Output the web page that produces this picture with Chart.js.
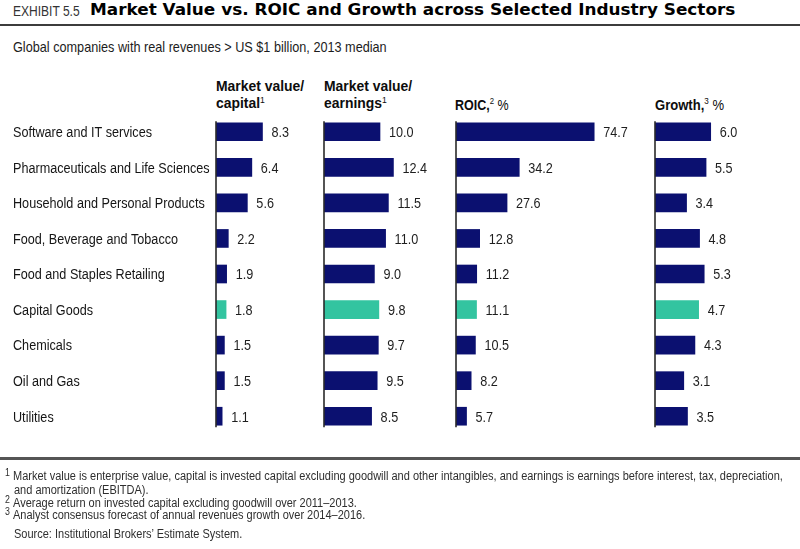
<!DOCTYPE html>
<html>
<head>
<meta charset="utf-8">
<script src="https://cdn.jsdelivr.net/npm/chart.js@4"></script>
<style>
  html, body { margin:0; padding:0; background:#fff; }
  body { width:800px; height:549px; position:relative; overflow:hidden; }
  canvas { position:absolute; left:0; top:0; }
  .t { position:absolute; white-space:nowrap; line-height:1; color:#1c1c1c;
       font-family:'Liberation Sans',Arial,sans-serif;
       transform-origin:0 50%; transform:scaleX(0.815); }
  .b { font-weight:bold; color:#0d0d0d; }
  .sup { font-size:0.62em; position:relative; top:-0.55em; font-weight:normal; }
  .rule { position:absolute; left:0; width:800px; }
  .fn { font-size:12.5px; color:#2e2e2e; }
  .fs { font-size:10px; color:#2e2e2e; }
</style>
</head>
<body>
<div class="t" id="exh" data-w="67" style="left:13px;top:4px;font-size:14px;color:#333;">EXHIBIT 5.5</div>
<div class="t" id="title" data-w="645" style="left:90px;top:3px;font-size:15px;font-family:'DejaVu Sans',sans-serif;font-weight:bold;color:#000;">Market Value vs. ROIC and Growth across Selected Industry Sectors</div>
<div class="rule" style="top:24px;height:2px;background:#3c3c3c;"></div>
<div class="t" id="sub" data-w="374" style="left:13px;top:40px;font-size:14.5px;">Global companies with real revenues &gt; US $1 billion, 2013 median</div>

<div class="t b" id="h1a" data-w="88" style="left:216px;top:77.5px;font-size:15.5px;">Market value/</div>
<div class="t b" id="h1b" style="left:216px;top:95px;font-size:15.5px;">capital<span class="sup">1</span></div>
<div class="t b" id="h2a" data-w="88" style="left:324px;top:77.5px;font-size:15.5px;">Market value/</div>
<div class="t b" id="h2b" style="left:324px;top:95px;font-size:15.5px;">earnings<span class="sup">1</span></div>
<div class="t b" id="h3" data-w="54" style="left:455px;top:96.5px;font-size:15.5px;">ROIC,<span class="sup">2</span> <span style="font-weight:normal">%</span></div>
<div class="t b" id="h4" data-w="69" style="left:655px;top:96.5px;font-size:15.5px;">Growth,<span class="sup">3</span> <span style="font-weight:normal">%</span></div>

<canvas id="c1" width="800" height="549"></canvas>
<canvas id="c2" width="800" height="549"></canvas>
<canvas id="c3" width="800" height="549"></canvas>
<canvas id="c4" width="800" height="549"></canvas>

<div class="rule" style="top:457px;height:2.5px;background:#555;"></div>
<div class="t fs" style="left:5px;top:467.5px;">1</div>
<div class="t fn" id="fn1" data-w="770" style="left:13px;top:469.75px;">Market value is enterprise value, capital is invested capital excluding goodwill and other intangibles, and earnings is earnings before interest, tax, depreciation,</div>
<div class="t fn fnx" style="left:13.5px;top:484.25px;">and amortization (EBITDA).</div>
<div class="t fs" style="left:5px;top:495px;">2</div>
<div class="t fn fnx" style="left:13px;top:497.25px;">Average return on invested capital excluding goodwill over 2011–2013.</div>
<div class="t fs" style="left:5px;top:506.5px;">3</div>
<div class="t fn fnx" style="left:13px;top:508.75px;">Analyst consensus forecast of annual revenues growth over 2014–2016.</div>
<div class="t fn fnx" style="left:13.5px;top:527.75px;">Source: Institutional Brokers’ Estimate System.</div>

<script>
// ---------------- data ----------------
const categories = [
  'Software and IT services',
  'Pharmaceuticals and Life Sciences',
  'Household and Personal Products',
  'Food, Beverage and Tobacco',
  'Food and Staples Retailing',
  'Capital Goods',
  'Chemicals',
  'Oil and Gas',
  'Utilities'
];
const marketValueCapital  = [8.3, 6.4, 5.6, 2.2, 1.9, 1.8, 1.5, 1.5, 1.1];
const marketValueEarnings = [10.0, 12.4, 11.5, 11.0, 9.0, 9.8, 9.7, 9.5, 8.5];
const roicPct             = [74.7, 34.2, 27.6, 12.8, 11.2, 11.1, 10.5, 8.2, 5.7];
const growthPct           = [6.0, 5.5, 3.4, 4.8, 5.3, 4.7, 4.3, 3.1, 3.5];
const highlightCategory   = 'Capital Goods';

// ---------------- style ----------------
const NAVY = '#0b1070';
const TEAL = '#33c4a0';
const FONT = "'Liberation Sans',Arial,sans-serif";
const SX = 0.815;   // horizontal condensing of canvas text
const barColors = categories.map(c => c === highlightCategory ? TEAL : NAVY);

function narrowText(ctx, text, x, y) {
  ctx.save();
  ctx.translate(x, y);
  ctx.scale(SX, 1);
  ctx.fillText(text, 0, 0);
  ctx.restore();
}

const barDecor = {
  id: 'barDecor',
  afterDatasetsDraw(chart, args, opts) {
    const ctx = chart.ctx;
    const meta = chart.getDatasetMeta(0);
    const xs = chart.scales.x, ys = chart.scales.y;
    const x0 = xs.getPixelForValue(0);
    const first = meta.data[0], last = meta.data[meta.data.length - 1];
    const h = 18;
    ctx.save();
    ctx.strokeStyle = '#2a2a2a';
    ctx.lineWidth = 1.6;
    ctx.beginPath();
    ctx.moveTo(x0, first.y - h / 2 - 1.5);
    ctx.lineTo(x0, last.y + h / 2 + 2);
    ctx.stroke();
    ctx.font = '15.5px ' + FONT;
    ctx.fillStyle = '#1e1e1e';
    ctx.textAlign = 'left';
    ctx.textBaseline = 'middle';
    const vals = chart.data.datasets[0].data;
    meta.data.forEach((bar, i) => {
      narrowText(ctx, vals[i].toFixed(1), bar.x + 9, bar.y + 1);
    });
    if (opts.showCategories) {
      ctx.fillStyle = '#151515';
      chart.data.labels.forEach((lab, i) => {
        narrowText(ctx, lab, 13, ys.getPixelForTick(i) + 1);
      });
    }
    ctx.restore();
  }
};

function makePanel(id, values, left, right, max, showCategories) {
  return new Chart(document.getElementById(id), {
    type: 'bar',
    data: {
      labels: categories,
      datasets: [{ data: values, backgroundColor: barColors, barThickness: 18, borderWidth: 0 }]
    },
    options: {
      indexAxis: 'y',
      responsive: false,
      animation: false,
      devicePixelRatio: 1,
      layout: { padding: { left: left, right: 800 - right, top: 114, bottom: 549 - 434 } },
      plugins: {
        legend: { display: false }, tooltip: { enabled: false }, title: { display: false },
        barDecor: { showCategories: showCategories }
      },
      scales: {
        x: { display: false, min: 0, max: max },
        y: { display: false }
      }
    },
    plugins: [barDecor]
  });
}

makePanel('c1', marketValueCapital, 216, 300, 15, true);
makePanel('c2', marketValueEarnings, 324, 408, 15, false);
makePanel('c3', roicPct, 456, 604, 80, false);
makePanel('c4', growthPct, 655, 720, 7, false);

// fit text widths (layout only)
function fit(el, w) {
  const actual = el.scrollWidth;
  const s = actual > 0 ? w / actual : SX;
  el.style.transform = 'scaleX(' + s + ')';
  return s;
}
const scales = {};
document.querySelectorAll('[data-w]').forEach(el => { scales[el.id] = fit(el, +el.dataset.w); });
document.getElementById('h1b').style.transform = 'scaleX(' + scales.h1a + ')';
document.getElementById('h2b').style.transform = 'scaleX(' + scales.h2a + ')';
document.querySelectorAll('.fnx, .fs').forEach(el => el.style.transform = 'scaleX(' + scales.fn1 + ')');
</script>
</body>
</html>
